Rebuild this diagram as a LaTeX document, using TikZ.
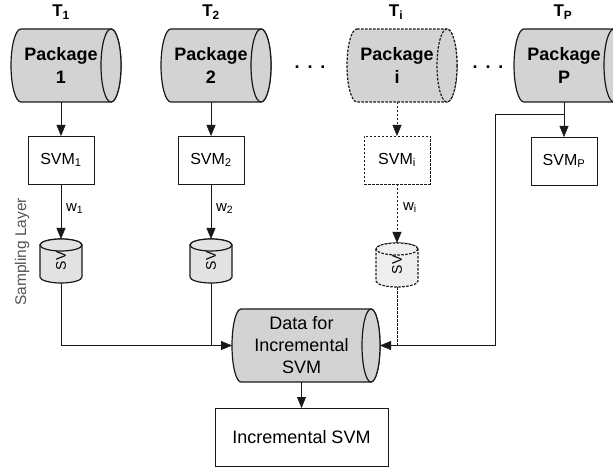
\documentclass[tikz,border=0pt]{standalone}
\usepackage{fontspec}
\usepackage{graphicx}
\setmainfont{Liberation Sans}
\usetikzlibrary{calc,arrows.meta}
\pgfdeclarelayer{background}
\pgfsetlayers{background,main}
\definecolor{pkgfill}{RGB}{211,211,211}
\definecolor{svfill}{RGB}{226,226,226}
\definecolor{svifill}{RGB}{238,238,238}
\definecolor{linecol}{RGB}{25,25,25}
\definecolor{labelgray}{RGB}{85,85,85}
% horizontal cylinder around a node: options, node, x radius, y radius
\newcommand\hcylout[4][]{%
  \begin{pgfonlayer}{background}
  \path[#1] ($(#2.north west)+(#3,0)$) -- (#2.north east)
     arc[start angle=-90,end angle=90,x radius=#3,y radius=#4]
     -- ($(#2.south west)+(#3,0)$)
     arc[start angle=90,end angle=270,x radius=#3,y radius=#4] -- cycle;
  \path[#1] (#2.east) ellipse [x radius=#3, y radius=#4];
  \end{pgfonlayer}}
% vertical cylinder around a node: options, node, x radius, y radius
\newcommand\vcylout[4][]{%
  \begin{pgfonlayer}{background}
  \path[#1] ($(#2.north west)+(0,#4)$) -- ($(#2.south west)+(0,-#4)$)
    arc[start angle=180,end angle=0,x radius=#3,y radius=#4]
    -- ($(#2.north east)+(0,#4)$)
    arc[start angle=0,end angle=-180,x radius=#3,y radius=#4] -- cycle;
  \path[#1] ($(#2.north)+(0,#4)$) ellipse [x radius=#3,y radius=#4];
  \end{pgfonlayer}}
\begin{document}
\begin{tikzpicture}[x=1bp,y=-1bp,
  line width=1.2bp, draw=linecol,
  every node/.style={inner sep=0pt, outer sep=0pt},
  arr/.style={-{Triangle[length=11bp,width=9bp]}},
  dsh/.style={dash pattern=on 2.5bp off 1.5bp},
  outl/.style={draw=linecol, line width=1.2bp},
  tlab/.style={font=\fontsize{17bp}{20bp}\selectfont\bfseries},
  pkg/.style={rectangle, minimum width=100bp, minimum height=73bp,
    align=center, font=\fontsize{18bp}{23bp}\selectfont\bfseries},
  cylsty/.style={outl, fill=pkgfill},
  svsty/.style={outl, fill=svfill},
  svmbox/.style={rectangle, draw=linecol, minimum width=66bp, minimum height=48bp,
    font=\fontsize{16bp}{19bp}\selectfont},
  svnode/.style={rectangle, minimum width=42bp, minimum height=44bp,
    font=\fontsize{14bp}{17bp}\selectfont},
  wlab/.style={anchor=west, font=\fontsize{15bp}{18bp}\selectfont},
  dotsty/.style={font=\fontsize{18bp}{20bp}\selectfont\bfseries},
]
\useasboundingbox (0,0) rectangle (613,467);

% T labels
\node[tlab] (t1) at (61,12) {T\textsubscript{1}};
\node[tlab] (t2) at (211,12) {T\textsubscript{2}};
\node[tlab] (ti) at (396,12) {T\textsubscript{i}};
\node[tlab] (tp) at (563,12) {T\textsubscript{P}};

% packages
\node[pkg] (p1) at (61,65.5) {Package\\1};
\node[pkg] (p2) at (211,65.5) {Package\\2};
\node[pkg] (pi) at (397,65.5) {Package\\i};
\node[pkg] (pp) at (564,65.5) {Package\\P};
\hcylout[cylsty]{p1}{10}{36.5}
\hcylout[cylsty]{p2}{10}{36.5}
\hcylout[cylsty,dsh]{pi}{10}{36.5}
\hcylout[cylsty]{pp}{10}{36.5}

% dots
\node[dotsty] (d1) at (310,67) {.\hspace{8bp}.\hspace{8bp}.};
\node[dotsty] (d2) at (488,67) {.\hspace{8bp}.\hspace{8bp}.};

% SVM boxes
\node[svmbox] (s1) at (61,160) {SVM\textsubscript{1}};
\node[svmbox] (s2) at (211,160) {SVM\textsubscript{2}};
\node[svmbox, dsh] (si) at (397,160) {SVM\textsubscript{i}};
\node[svmbox] (sp) at (564,161) {SVM\textsubscript{P}};

% SV cylinders
\node[svnode] (v1) at (61,261) {\rotatebox{90}{SV}};
\node[svnode] (v2) at (211,261) {\rotatebox{90}{SV}};
\node[svnode] (vi) at (397,265) {\rotatebox{90}{SV}};
\vcylout[svsty]{v1}{21}{6}
\vcylout[svsty]{v2}{21}{6}
\vcylout[svsty, fill=svifill, dsh]{vi}{21}{6}

% sampling layer label
\node[rotate=90, text=labelgray, font=\fontsize{15.5bp}{18bp}\selectfont] (samp) at (22,252) {Sampling Layer};

% data cylinder
\node[pkg, minimum width=139bp, font=\fontsize{18bp}{22bp}\selectfont] (data) at (301.5,345.5) {Data for\\Incremental\\SVM};
\hcylout[cylsty]{data}{9}{36.5}

% incremental SVM box
\node[rectangle, draw=linecol, minimum width=173bp, minimum height=58bp,
  font=\fontsize{18bp}{22bp}\selectfont] (inc) at (301.5,437) {Incremental SVM};

% connectors
\draw[arr] (p1) -- (s1);
\draw[arr] (p2) -- (s2);
\draw[arr, dsh] (pi) -- (si);
\draw[arr] (pp) -- (sp);

\draw[arr] (s1) -- node[wlab, pos=0.45, xshift=5bp] (w1) {w\textsubscript{1}} (v1);
\draw[arr] (s2) -- node[wlab, pos=0.45, xshift=5bp] (w2) {w\textsubscript{2}} (v2);
\draw[arr, dsh] (si) -- node[wlab, pos=0.4, xshift=6bp] (wi) {w\textsubscript{i}} (vi);

\draw (v1) -- (v1 |- data.west);
\draw[arr] (v1 |- data.west) -- (data.west);
\draw (v2) -- (v2 |- data.west);
\draw[dsh] (vi) -- (vi |- data.east);

\coordinate (jp) at (564,114);
\coordinate (bendp) at (495,114);
\draw[arr] (jp) -- (bendp) |- ([xshift=9bp]data.east);

\draw[arr] (data) -- (inc);
\end{tikzpicture}
\end{document}
